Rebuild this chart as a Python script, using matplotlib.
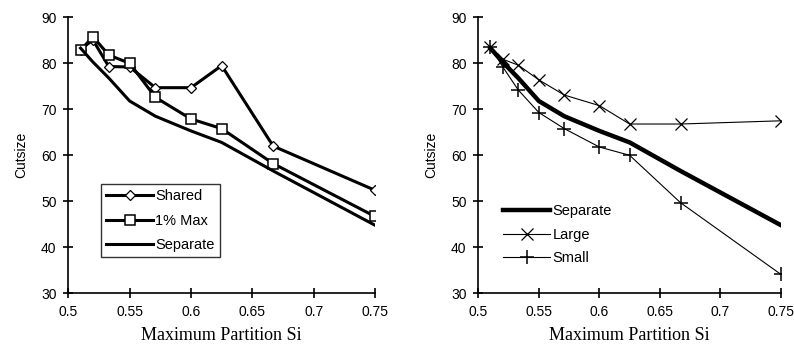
import matplotlib
matplotlib.use("Agg")
import matplotlib.pyplot as plt
from matplotlib import font_manager

# ---- data ----
x_si = [0.51, 0.52, 0.533, 0.55, 0.571, 0.6, 0.625, 0.667, 0.75]
shared = [83.0, 85.1, 79.3, 79.2, 74.7, 74.7, 79.5, 62.0, 52.4]
max1pct = [82.8, 85.8, 81.8, 80.0, 72.6, 67.9, 65.8, 58.2, 46.7]
separate = [83.3, 80.3, 76.8, 71.8, 68.5, 65.3, 62.8, 56.6, 44.8]
large = [83.6, 80.9, 79.6, 76.4, 73.1, 70.8, 66.8, 66.8, 67.5]
small = [83.6, 79.3, 74.2, 69.3, 65.8, 61.8, 60.0, 49.7, 34.1]

xticks = [0.5, 0.55, 0.6, 0.65, 0.7, 0.75]
xtick_labels = ["0.5", "0.55", "0.6", "0.65", "0.7", "0.75"]
yticks = [30, 40, 50, 60, 70, 80, 90]

names = {f.name for f in font_manager.fontManager.ttflist}
sans = "Liberation Sans Narrow" if "Liberation Sans Narrow" in names else "Liberation Sans"
serif = "Liberation Serif"

plt.rcParams['font.family'] = [sans, 'DejaVu Sans']

W, H = 794, 356
fig = plt.figure(figsize=(W / 100, H / 100), dpi=100)

def make_axes(x0, x1):
    ax = fig.add_axes([x0 / W, 1 - 293.3 / H, (x1 - x0) / W, (293.3 - 17.3) / H])
    ax.set_xlim(0.5, 0.75)
    ax.set_ylim(30, 90)
    ax.spines['top'].set_visible(False)
    ax.spines['right'].set_visible(False)
    for s in ('left', 'bottom'):
        ax.spines[s].set_linewidth(1.2)
    ax.set_xticks(xticks)
    ax.set_xticklabels(xtick_labels)
    ax.set_yticks(yticks)
    ax.tick_params(direction='inout', length=7, width=1.2, labelsize=10, pad=5)
    ax.set_xlabel("Maximum Partition Si", family=[serif], fontsize=13, labelpad=6)
    ax.set_ylabel("Cutsize", fontsize=10, labelpad=9)
    ax.patch.set_alpha(0)
    return ax

ax1 = make_axes(68.3, 375.0)
ax1.plot(x_si, shared, color='black', lw=2.2, marker='D', ms=5.5, mfc='white',
         mec='black', mew=0.9, label='Shared')
ax1.plot(x_si, max1pct, color='black', lw=2.2, marker='s', ms=6.5, mfc='white',
         mec='black', mew=1.1, label='1% Max')
ax1.plot(x_si, separate, color='black', lw=2.2, label='Separate')
leg1 = ax1.legend(loc='upper left', bbox_to_anchor=(0.107, 0.396), fontsize=10.5,
                  frameon=True, fancybox=False, edgecolor='black', handlelength=3.2,
                  handletextpad=0.15, borderpad=0.35, labelspacing=0.72, borderaxespad=0)
leg1.get_frame().set_linewidth(1.0)

ax2 = make_axes(478.3, 781.0)
ax2.plot(x_si, separate, color='black', lw=3.2, label='Separate')
ax2.plot(x_si, large, color='black', lw=0.8, marker='x', ms=9, mew=0.9, label='Large')
ax2.plot(x_si, small, color='black', lw=0.8, marker='+', ms=10, mew=1.1, label='Small')
ax2.legend(loc='upper left', bbox_to_anchor=(0.083, 0.323), fontsize=10.5, frameon=False,
           handlelength=3.2, handletextpad=0.15, borderpad=0, labelspacing=0.65,
           borderaxespad=0)

fig.savefig("out.png", dpi=100)
